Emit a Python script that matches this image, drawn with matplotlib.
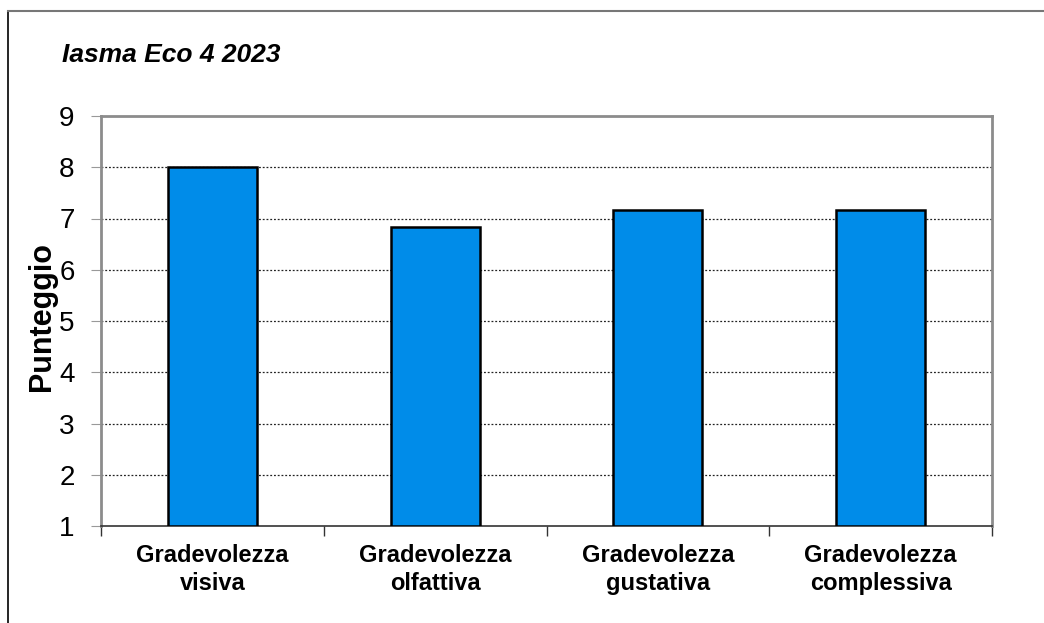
import matplotlib
matplotlib.use("Agg")
import matplotlib.pyplot as plt
from matplotlib.lines import Line2D

plt.rcParams['font.family'] = ['Liberation Sans', 'DejaVu Sans']

title = "Iasma Eco 4 2023"
categories = ["Gradevolezza\nvisiva", "Gradevolezza\nolfattiva",
              "Gradevolezza\ngustativa", "Gradevolezza\ncomplessiva"]
values = [8.0, 6.83, 7.17, 7.17]
yticks = [1, 2, 3, 4, 5, 6, 7, 8, 9]
ylabel = "Punteggio"

W, H = 1044, 623
fig = plt.figure(figsize=(W / 100, H / 100), dpi=100)
ax = fig.add_axes([101 / W, 1 - 526 / H, (992 - 101) / W, (526 - 116) / H])

x = list(range(len(categories)))
ax.bar(x, [v - 1 for v in values], bottom=1, width=0.40, color='#008CE9',
       edgecolor='black', linewidth=1.8, zorder=3)

ax.set_xlim(-0.5, len(categories) - 0.5)
ax.set_ylim(1, 9)
ax.set_yticks(yticks)
ax.set_yticklabels([str(t) for t in yticks], fontsize=20)
for t in yticks[1:-1]:
    ax.axhline(t, color='#222222', linestyle=(0, (1.5, 1.5)), linewidth=0.9, zorder=1)

ax.tick_params(axis='y', length=7, width=0.8, color='#999999', pad=12)
ax.set_xticks(x)
ax.set_xticklabels(categories, fontsize=17, fontweight='bold', linespacing=1.25)
ax.tick_params(axis='x', which='major', length=0, pad=13)
ax.set_xticks([i - 0.5 for i in range(len(categories) + 1)], minor=True)
ax.tick_params(axis='x', which='minor', length=7, width=1.0, color='#333333', direction='out')

for side in ['left', 'right', 'top']:
    ax.spines[side].set_color('#8c8c8c')
    ax.spines[side].set_linewidth(2)
ax.spines['bottom'].set_color('#333333')
ax.spines['bottom'].set_linewidth(1.2)

ax.set_ylabel(ylabel, fontsize=22, fontweight='bold')
ax.yaxis.set_label_coords((57 - 101) / (992 - 101), 0.51)

fig.text(62 / W, 1 - 55 / H, title, fontsize=19, fontweight='bold', fontstyle='italic',
         va='center', ha='left')

# outer frame
fig.add_artist(Line2D([8 / W, 8 / W], [0, 1 - 11 / H], transform=fig.transFigure,
                      color='black', linewidth=1.2))
fig.add_artist(Line2D([8 / W, 1], [1 - 11 / H, 1 - 11 / H], transform=fig.transFigure,
                      color='#777777', linewidth=1.5))

fig.savefig("out.png", dpi=100)
